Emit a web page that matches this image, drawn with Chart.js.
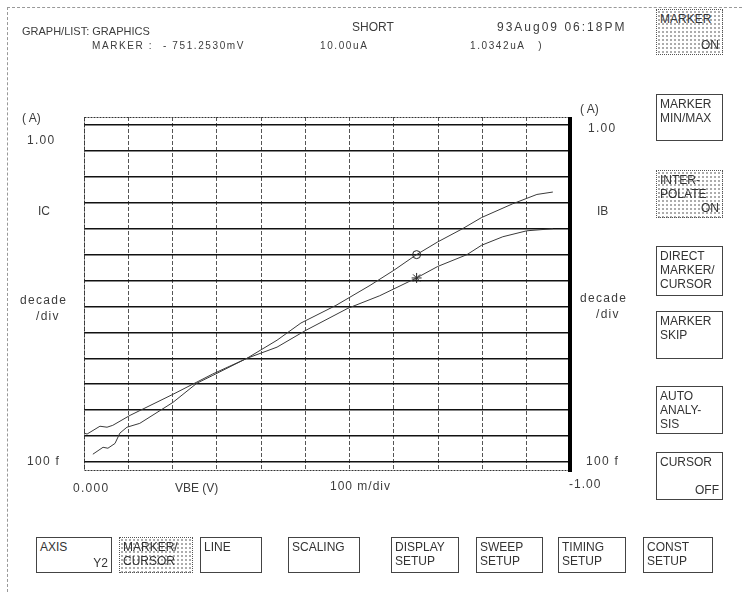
<!DOCTYPE html>
<html>
<head>
<meta charset="utf-8">
<script src="https://cdn.jsdelivr.net/npm/chart.js@4.4.1/dist/chart.umd.min.js"></script>
<style>
  html, body { margin: 0; padding: 0; background: #fff; }
  #page { position: relative; width: 742px; height: 592px; overflow: hidden;
          font-family: "Liberation Sans", Arial, sans-serif; color: #3c3c3c; }
  #chart { position: absolute; left: 0; top: 0; }
  .t { position: absolute; font-size: 12px; line-height: 12px; white-space: nowrap; }
  .s { font-size: 10px; line-height: 10px; letter-spacing: 1.6px; }
  .w { letter-spacing: 1.3px; }
  .key { position: absolute; border: 1px solid #444; box-sizing: border-box;
         font-size: 12px; line-height: 14px; padding: 2px 3px; color: #333; background: #fff; }
  .key .r { position: absolute; right: 3px; bottom: 2px; }
  .dots { border: 1px dotted #555;
          background-image: radial-gradient(#aaa 0.7px, transparent 1px);
          background-size: 4px 4px; }
  #edgeL { position: absolute; left: 7px; top: 7px; bottom: 0; border-left: 1px dashed #999; }
  #edgeT { position: absolute; left: 7px; top: 7px; right: 0; border-top: 1px dashed #999; }
</style>
</head>
<body>
<div id="page">
  <div id="edgeL"></div>
  <div id="edgeT"></div>
  <canvas id="chart" width="742" height="592"></canvas>

  <!-- header -->
  <div class="t" style="left:22px;top:25px;font-size:11px">GRAPH/LIST: GRAPHICS</div>
  <div class="t" style="left:352px;top:21px">SHORT</div>
  <div class="t" style="left:497px;top:21px;letter-spacing:2px">93Aug09 06:18PM</div>
  <div class="t s" style="left:92px;top:41px">MARKER :</div>
  <div class="t s" style="left:163px;top:41px">- 751.2530mV</div>
  <div class="t s" style="left:320px;top:41px">10.00uA</div>
  <div class="t s" style="left:470px;top:41px">1.0342uA &nbsp; )</div>

  <!-- left axis labels -->
  <div class="t" style="left:22px;top:112px">( A)</div>
  <div class="t w" style="left:27px;top:134px">1.00</div>
  <div class="t" style="left:38px;top:205px">IC</div>
  <div class="t w" style="left:20px;top:294px">decade</div>
  <div class="t w" style="left:36px;top:310px">/div</div>
  <div class="t w" style="left:27px;top:455px">100 f</div>

  <!-- right axis labels -->
  <div class="t" style="left:580px;top:103px">( A)</div>
  <div class="t w" style="left:588px;top:122px">1.00</div>
  <div class="t" style="left:597px;top:205px">IB</div>
  <div class="t w" style="left:580px;top:292px">decade</div>
  <div class="t w" style="left:596px;top:308px">/div</div>
  <div class="t w" style="left:586px;top:455px">100 f</div>

  <!-- x axis labels -->
  <div class="t w" style="left:73px;top:482px">0.000</div>
  <div class="t" style="left:175px;top:482px">VBE (V)</div>
  <div class="t" style="left:330px;top:480px;letter-spacing:1px">100 m/div</div>
  <div class="t" style="left:569px;top:478px;letter-spacing:1px">-1.00</div>

  <!-- right soft keys -->
  <div class="key dots" style="left:656px;top:9px;width:67px;height:46px">MARKER<span class="r">ON</span></div>
  <div class="key" style="left:656px;top:94px;width:67px;height:47px">MARKER<br>MIN/MAX</div>
  <div class="key dots" style="left:656px;top:170px;width:67px;height:48px">INTER-<br>POLATE<span class="r">ON</span></div>
  <div class="key" style="left:656px;top:246px;width:67px;height:50px">DIRECT<br>MARKER/<br>CURSOR</div>
  <div class="key" style="left:656px;top:311px;width:67px;height:48px">MARKER<br>SKIP</div>
  <div class="key" style="left:656px;top:386px;width:67px;height:48px">AUTO<br>ANALY-<br>SIS</div>
  <div class="key" style="left:656px;top:452px;width:67px;height:48px">CURSOR<span class="r">OFF</span></div>

  <!-- bottom soft keys -->
  <div class="key" style="left:36px;top:537px;width:76px;height:36px">AXIS<span class="r">Y2</span></div>
  <div class="key dots" style="left:119px;top:537px;width:74px;height:36px">MARKER/<br>CURSOR</div>
  <div class="key" style="left:200px;top:537px;width:62px;height:36px">LINE</div>
  <div class="key" style="left:288px;top:537px;width:72px;height:36px">SCALING</div>
  <div class="key" style="left:391px;top:537px;width:68px;height:36px">DISPLAY<br>SETUP</div>
  <div class="key" style="left:476px;top:537px;width:67px;height:36px">SWEEP<br>SETUP</div>
  <div class="key" style="left:558px;top:537px;width:68px;height:36px">TIMING<br>SETUP</div>
  <div class="key" style="left:643px;top:537px;width:70px;height:36px">CONST<br>SETUP</div>
</div>

<script>
// sweep voltage (V) and collector current IC (A)
const VBE_IC = [0, -0.007, -0.036, -0.052, -0.065, -0.104, -0.201, -0.291, -0.368, -0.436,
  -0.490, -0.569, -0.646, -0.700, -0.751, -0.799, -0.855, -0.898, -0.968, -1.023, -1.059];
const IC = [1.3e-12, 1.2e-12, 2.4e-12, 2.2e-12, 2.6e-12, 6.3e-12, 4.1e-11, 2.5e-10, 1.0e-9, 5.0e-9,
  2.3e-8, 1.1e-7, 6.5e-7, 2.5e-6, 1.0e-5, 3.1e-5, 1.0e-4, 2.7e-4, 9.1e-4, 2.1e-3, 2.6e-3];

// base current IB (A)
const VBE_IB = [-0.020, -0.043, -0.054, -0.070, -0.081, -0.097, -0.126, -0.201, -0.255, -0.291,
  -0.368, -0.436, -0.501, -0.596, -0.668, -0.751, -0.799, -0.865, -0.898, -0.946, -1.000, -1.059];
const IB = [2.0e-13, 3.7e-13, 3.4e-13, 5.2e-13, 1.3e-12, 2.2e-12, 3.1e-12, 2.0e-11, 1.1e-10, 2.2e-10,
  1.0e-9, 2.7e-9, 1.2e-8, 8.5e-8, 2.6e-7, 1.26e-6, 3.5e-6, 1.0e-5, 2.3e-5, 4.9e-5, 8.3e-5, 1.0e-4];

// marker position
const MARKER_VBE = -0.7513;
const MARKER_IC = 1.0e-5;
const MARKER_IB = 1.26e-6;

// axis ranges: 1 A .. 100 fA decades, 0 .. -1.1 V at 100 mV/div
const Y_DECADES = [1e-13, 1e-12, 1e-11, 1e-10, 1e-9, 1e-8, 1e-7, 1e-6, 1e-5, 1e-4, 1e-3, 1e-2, 1e-1, 1];
const X_MIN = -1.1, X_MAX = 0, X_STEP = 0.1;
const Y_MIN = 4.5e-14, Y_MAX = 2.04;

const pts = (xs, ys) => xs.map((x, i) => ({ x, y: ys[i] }));

// plot frame: thin box with a heavy right edge, like the plotter output
const framePlugin = {
  id: "frame",
  afterDraw(chart) {
    const { ctx, chartArea: a } = chart;
    ctx.save();
    ctx.strokeStyle = "#333";
    ctx.lineWidth = 1;
    ctx.setLineDash([2, 1]);
    ctx.strokeRect(a.left + 0.5, a.top + 0.5, a.width - 1, a.height - 1);
    ctx.setLineDash([]);
    ctx.lineWidth = 4;
    ctx.strokeStyle = "#000";
    ctx.beginPath();
    ctx.moveTo(a.right - 1, a.top);
    ctx.lineTo(a.right - 1, a.bottom + 1);
    ctx.stroke();
    ctx.restore();
  },
};

new Chart(document.getElementById("chart"), {
  type: "line",
  data: {
    datasets: [
      { label: "IC", data: pts(VBE_IC, IC), borderColor: "#3a3a3a", borderWidth: 1,
        pointRadius: 0, tension: 0 },
      { label: "IB", data: pts(VBE_IB, IB), borderColor: "#3a3a3a", borderWidth: 1,
        pointRadius: 0, tension: 0 },
      { label: "marker IC", data: [{ x: MARKER_VBE, y: MARKER_IC }], showLine: false,
        pointStyle: "circle", pointRadius: 4, borderColor: "#222", borderWidth: 1,
        backgroundColor: "rgba(0,0,0,0)" },
      { label: "marker IB", data: [{ x: MARKER_VBE, y: MARKER_IB }], showLine: false,
        pointStyle: "star", pointRadius: 5, borderColor: "#222", borderWidth: 1 },
    ],
  },
  options: {
    responsive: false,
    animation: false,
    layout: { padding: { left: 84, top: 117, right: 171, bottom: 121 } },
    plugins: { legend: { display: false }, tooltip: { enabled: false } },
    scales: {
      x: {
        type: "linear", min: X_MIN, max: X_MAX, reverse: true,
        ticks: { display: false, stepSize: X_STEP },
        grid: { color: "#555", lineWidth: 1, drawTicks: false },
        border: { display: false, dash: [4, 2] },
      },
      y: {
        type: "logarithmic", min: Y_MIN, max: Y_MAX,
        afterBuildTicks: (s) => { s.ticks = Y_DECADES.map((v) => ({ value: v })); },
        ticks: { display: false },
        grid: { color: "#111", lineWidth: 1.5, drawTicks: false },
        border: { display: false },
      },
    },
  },
  plugins: [framePlugin],
});
</script>
</body>
</html>
